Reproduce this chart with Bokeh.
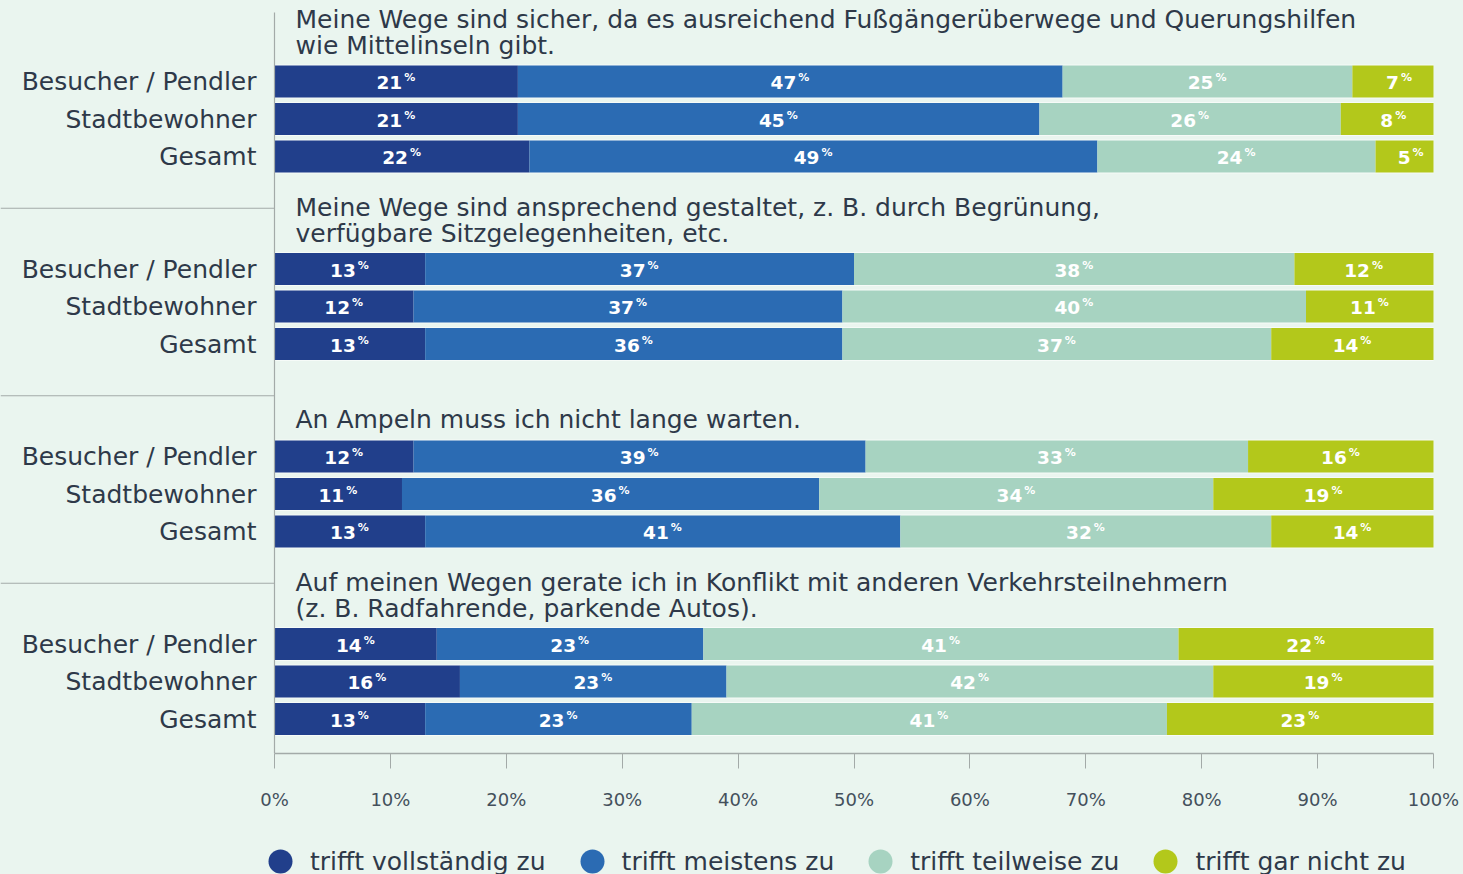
from bokeh.plotting import figure
from bokeh.models import Range1d, FixedTicker, PrintfTickFormatter, ColumnDataSource, Legend, LegendItem
from bokeh.layouts import column
from bokeh.embed import file_html
from bokeh.resources import INLINE
from bokeh.core.properties import value

# ---------------- data ----------------
questions = [
    ["Meine Wege sind sicher, da es ausreichend Fußgängerüberwege und Querungshilfen",
     "wie Mittelinseln gibt."],
    ["Meine Wege sind ansprechend gestaltet, z. B. durch Begrünung,",
     "verfügbare Sitzgelegenheiten, etc."],
    ["An Ampeln muss ich nicht lange warten."],
    ["Auf meinen Wegen gerate ich in Konflikt mit anderen Verkehrsteilnehmern",
     "(z. B. Radfahrende, parkende Autos)."],
]
groups = ["Besucher / Pendler", "Stadtbewohner", "Gesamt"]
categories = ["trifft vollständig zu", "trifft meistens zu", "trifft teilweise zu", "trifft gar nicht zu"]

# values per row (question 1..4, each: Besucher/Pendler, Stadtbewohner, Gesamt)
vollstaendig = [21, 21, 22, 13, 12, 13, 12, 11, 13, 14, 16, 13]
meistens     = [47, 45, 49, 37, 37, 36, 39, 36, 41, 23, 23, 23]
teilweise    = [25, 26, 24, 38, 40, 37, 33, 34, 32, 41, 42, 41]
gar_nicht    = [7, 8, 5, 12, 11, 14, 16, 19, 14, 22, 19, 23]
ticks = [0, 10, 20, 30, 40, 50, 60, 70, 80, 90, 100]

# ---------------- style ----------------
BG = "#eaf5ef"
TXT = "#2e3949"
COLORS = ["#213f8b", "#2b6bb3", "#a7d3c1", "#b3c81b"]
FONT = "DejaVu Sans"

W = 1463
X0, X1 = 274, 1433          # pixel position of 0% and 100%
s = (X1 - X0) / 100.0
x_start, x_end = -X0 / s, (W - X0) / s
FRAME_H = 753
ROW0 = 81.0                 # pixel centre of the first row
ROW_H = 37.5
y_top = (0 - ROW0) / ROW_H
y_bot = (FRAME_H - ROW0) / ROW_H
BAR_H = 0.853

p = figure(width=W, height=823, x_range=Range1d(x_start, x_end), y_range=Range1d(y_bot, y_top),
           output_backend="svg", toolbar_location=None, min_border_left=0, min_border_right=0,
           min_border_top=0, min_border_bottom=70, background_fill_color=BG, border_fill_color=BG,
           outline_line_color=None, y_axis_location=None, x_axis_location="below")
p.grid.visible = False

# row positions
rows_y = []
for g in range(len(questions)):
    for r in range(len(groups)):
        rows_y.append(g * 5 + r)

series = [vollstaendig, meistens, teilweise, gar_nicht]
lefts = [0] * len(rows_y)

# row backing (light edge around bars)
p.hbar(y=rows_y, left=0, right=100, height=BAR_H + 0.06, fill_color="#f6fbf8", line_color=None)

label_x, label_y, label_t = [], [], []
for vals, col in zip(series, COLORS):
    rights = [l + v for l, v in zip(lefts, vals)]
    src = ColumnDataSource(dict(y=rows_y, left=lefts, right=rights))
    p.hbar(y="y", left="left", right="right", height=BAR_H, source=src, fill_color=col, line_color=None)
    for l, v, yy in zip(lefts, vals, rows_y):
        label_x.append(l + v / 2.0)
        label_y.append(yy)
        label_t.append(str(v))
    lefts = rights

lab_src = ColumnDataSource(dict(x=label_x, y=label_y, t=label_t, pc=["%"] * len(label_t)))
p.text(x="x", y="y", text="t", source=lab_src, text_align="right", text_baseline="middle",
       x_offset=6, y_offset=1, text_color="white", text_font=value(FONT), text_font_style="bold",
       text_font_size="18.5px")
p.text(x="x", y="y", text="pc", source=lab_src, text_align="left", text_baseline="middle",
       x_offset=8, y_offset=-4, text_color="white", text_font=value(FONT), text_font_style="bold",
       text_font_size="11px")

# category labels
cat_labels = [groups[r] for g in range(len(questions)) for r in range(len(groups))]
p.text(x=[0] * len(rows_y), y=rows_y, text=cat_labels, text_align="right", text_baseline="middle",
       x_offset=-18, text_color=TXT, text_font=value(FONT), text_font_size="25px")

# question titles
tx, ty, tt = [], [], []
for g, lines in enumerate(questions):
    offs = [-1.65, -0.95] if len(lines) == 2 else [-0.99]
    for line, o in zip(lines, offs):
        tx.append(0)
        ty.append(g * 5 + o)
        tt.append(line)
p.text(x=tx, y=ty, text=tt, text_align="left", text_baseline="middle", x_offset=21,
       text_color=TXT, text_font=value(FONT), text_font_size="25px")

# separators and vertical line
seps = [g * 5 + 3.38 for g in range(len(questions) - 1)]
p.segment(x0=[x_start] * len(seps), x1=[0] * len(seps), y0=seps, y1=seps, line_color="#a3aaa8", line_width=1.2)
p.segment(x0=[0], x1=[0], y0=[(12 - ROW0) / ROW_H], y1=[y_bot], line_color="#a3aaa8", line_width=1.2)

# x axis
ax = p.xaxis[0]
ax.ticker = FixedTicker(ticks=ticks)
ax.formatter = PrintfTickFormatter(format="%d%%")
ax.bounds = (0, 100)
ax.axis_line_color = "#a3aaa8"
ax.axis_line_width = 1.5
ax.major_tick_line_color = "#a3aaa8"
ax.major_tick_out = 15
ax.major_tick_in = 0
ax.minor_tick_line_color = None
ax.major_label_standoff = 20
ax.major_label_text_font = FONT
ax.major_label_text_font_size = "18px"
ax.major_label_text_color = "#44505c"

# legend figure
p2 = figure(width=W, height=51, x_range=Range1d(0, W), y_range=Range1d(0, 51), output_backend="svg",
            toolbar_location=None, min_border=0, background_fill_color=BG, border_fill_color=BG,
            outline_line_color=None, x_axis_location=None, y_axis_location=None)
p2.grid.visible = False
rs = []
for c in COLORS:
    # dummy point outside the visible range; only used for the legend glyph
    rs.append(p2.scatter(x=[-1000], y=[-1000], marker="circle", size=24, fill_color=c, line_color=None))
legend = Legend(items=[LegendItem(label=l, renderers=[r]) for l, r in zip(categories, rs)],
                orientation="horizontal", location=(250, -17), glyph_width=60, glyph_height=60,
                label_standoff=0, spacing=16, padding=0, margin=0, border_line_color=None,
                background_fill_alpha=0, label_text_font=FONT, label_text_font_size="25px",
                label_text_color=TXT)
p2.add_layout(legend)

layout = column(p, p2, spacing=0, styles={"background-color": BG})
open("out.html", "w").write(file_html(layout, INLINE))
